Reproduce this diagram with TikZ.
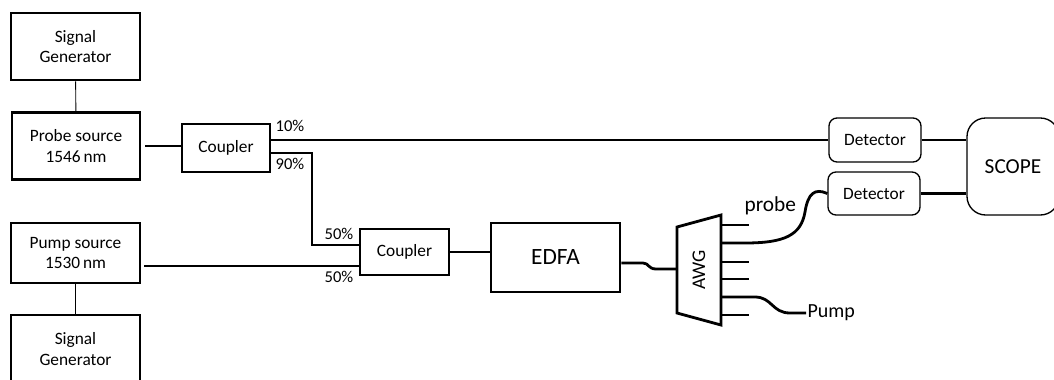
\documentclass[tikz,border=0pt]{standalone}
\usepackage{fontspec}
\setmainfont{Carlito}
\usetikzlibrary{positioning,calc}

\begin{document}
\begin{tikzpicture}[
    x=0.75pt,y=-0.75pt,
    block/.style={rectangle,draw,line width=2.2pt,align=center,font=\fontsize{13}{15.5}\selectfont},
    roundblock/.style={rectangle,draw,line width=1pt,rounded corners=6pt,align=center,font=\fontsize{13}{15}\selectfont},
    fiber/.style={line width=2.1pt},
    wire/.style={line width=0.7pt},
    pct/.style={inner sep=0pt,font=\fontsize{12.4}{14}\selectfont}
]
    \useasboundingbox (0,0) rectangle (1054,379);

    \node[block,minimum width=96.75pt,minimum height=50.25pt] (sgtop) at (75.5,46.5) {Signal\\Generator};
    \node[block,minimum width=96pt,minimum height=50.25pt] (probe) at (76,146) {Probe source\\1546\,nm};
    \node[block,minimum width=96.75pt,minimum height=45pt] (pump) at (75.5,253) {Pump source\\1530\,nm};
    \node[block,minimum width=96.75pt,minimum height=51pt] (sgbot) at (75.5,349) {Signal\\Generator};
    \node[block,minimum width=66pt,minimum height=36pt,font=\fontsize{13}{15}\selectfont] (cplA) at (226,148) {Coupler};
    \node[block,minimum width=66.75pt,minimum height=34.5pt,font=\fontsize{13}{15}\selectfont] (cplB) at (404.5,252) {Coupler};
    \node[block,minimum width=96.75pt,minimum height=51.75pt,font=\fontsize{17.5}{20}\selectfont] (edfa) at (555.5,257.5) {EDFA};
    \node[roundblock,minimum width=69pt,minimum height=33pt] (detA) at (875,140) {Detector};
    \node[roundblock,minimum width=69pt,minimum height=32.25pt] (detB) at (874,193.5) {Detector};
    \node[roundblock,rounded corners=14pt,minimum width=69pt,minimum height=72.75pt,font=\fontsize{16}{18}\selectfont] (scope) at (1013,166.5) {SCOPE};

    % AWG
    \draw[fiber,line join=miter] (677,227) -- (721,215) -- (721,325) -- (677,313) -- cycle;
    \node[rotate=90,font=\fontsize{14.5}{17}\selectfont] (awg) at (699,270) {AWG};
    \node[inner sep=1pt,anchor=south west,font=\fontsize{16}{18}\selectfont] (probelbl) at (743,217) {probe};
    \node[inner sep=1pt,anchor=west,font=\fontsize{15}{17}\selectfont] (pumplbl) at (806,313) {Pump};

    % split ratios
    \node[pct] (pA) at (290,126) {10\%};
    \node[pct] (pB) at (290,164) {90\%};
    \node[pct] (pC) at (339,234) {50\%};
    \node[pct] (pD) at (339,277) {50\%};

    \coordinate (bend) at (312,153);

    \draw[wire] (sgtop) -- (probe);
    \draw[wire] (pump) -- (sgbot);
    \draw[fiber,shorten <=3pt] (probe.east) -- (cplA.west |- probe.east);
    \draw[fiber] (cplA.east |- detA.west) -- (detA.west);
    \draw[fiber] (cplA.east |- bend) -- (bend) |- ($(cplB.west)+(0,-7)$);
    \draw[fiber,shorten <=2pt] (pump.east |- 0,266) -- (cplB.west |- 0,266);
    \draw[fiber] (cplB.east) -- (cplB.east -| edfa.west);
    \draw[fiber] ($(edfa.east)+(0,5.5)$) -- (643,263) .. controls (649,263) and (648,269) .. (656,269) -- (677,269);
    \draw[fiber] (detA.east) -- (detA.east -| scope.west);
    \draw[fiber] (detB.east) -- (detB.east -| scope.west);

    % AWG outputs
    \foreach \y in {225,262,279,315}
        \draw[fiber] (721,\y) -- (749,\y);
    \draw[fiber] (721,243) -- (745,243) .. controls (785,243) and (801,235) .. (805,212) .. controls (808,193) and (815,188) .. (detB.west);
    \draw[fiber] (721,297) -- (755,297) .. controls (772,297) and (772,313) .. (790,313) -- (pumplbl.west);
\end{tikzpicture}
\end{document}
